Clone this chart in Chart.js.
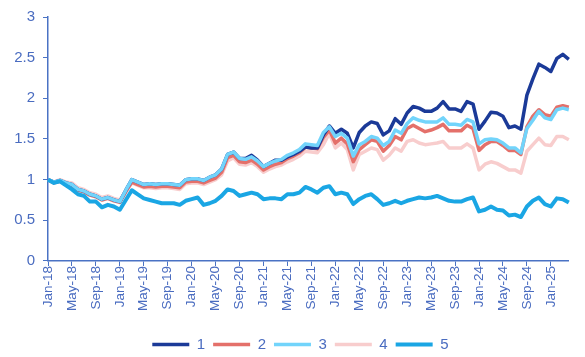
<!DOCTYPE html>
<html>
<head>
<meta charset="utf-8">
<script src="https://cdn.jsdelivr.net/npm/chart.js@4/dist/chart.umd.min.js"></script>
<style>
html,body{margin:0;padding:0;background:#fff;}
#wrap{width:585px;height:357px;position:relative;}
</style>
</head>
<body>
<div id="wrap"><canvas id="c" width="585" height="357"></canvas></div>
<script>
// Categories: monthly, Jan-18 .. Apr-25
const monthNames = ['Jan','Feb','Mar','Apr','May','Jun','Jul','Aug','Sep','Oct','Nov','Dec'];
const years = ['18','19','20','21','22','23','24','25'];
const categories = [];
years.forEach(y => monthNames.forEach(m => categories.push(m + '-' + y)));
categories.length = 88; // through Apr-25

const seriesNames = ['1','2','3','4','5'];

const series1 = [1.00,0.97,0.99,0.96,0.94,0.88,0.86,0.82,0.80,0.76,0.78,0.75,
  0.73,0.87,1.00,0.97,0.94,0.95,0.94,0.95,0.95,0.94,0.93,1.00,
  1.01,1.01,0.99,1.03,1.06,1.13,1.31,1.34,1.26,1.26,1.30,1.24,
  1.16,1.20,1.24,1.24,1.28,1.31,1.35,1.40,1.39,1.39,1.55,1.66,
  1.57,1.62,1.57,1.39,1.58,1.66,1.71,1.69,1.55,1.60,1.75,1.68,
  1.82,1.90,1.88,1.84,1.84,1.88,1.96,1.87,1.87,1.84,1.96,1.93,
  1.62,1.72,1.83,1.82,1.78,1.64,1.66,1.62,2.04,2.24,2.42,2.38,
  2.33,2.49,2.54,2.48];

const series2 = [1.00,0.96,0.98,0.95,0.93,0.87,0.85,0.81,0.79,0.75,0.77,0.74,
  0.72,0.85,0.97,0.94,0.91,0.92,0.91,0.92,0.92,0.91,0.90,0.97,
  0.98,0.98,0.96,0.99,1.02,1.09,1.27,1.30,1.22,1.21,1.24,1.19,
  1.12,1.16,1.19,1.21,1.26,1.29,1.33,1.40,1.39,1.38,1.52,1.61,
  1.45,1.51,1.44,1.22,1.37,1.43,1.49,1.47,1.35,1.42,1.53,1.49,
  1.63,1.67,1.63,1.59,1.61,1.64,1.68,1.60,1.60,1.60,1.67,1.63,
  1.36,1.43,1.47,1.47,1.42,1.36,1.36,1.31,1.65,1.78,1.86,1.80,
  1.78,1.89,1.91,1.89];

const series3 = [1.00,0.97,0.99,0.96,0.94,0.88,0.86,0.82,0.80,0.76,0.78,0.75,
  0.73,0.87,1.00,0.97,0.94,0.95,0.94,0.95,0.95,0.94,0.93,1.00,
  1.01,1.01,0.99,1.03,1.06,1.13,1.31,1.34,1.26,1.25,1.28,1.23,
  1.16,1.20,1.23,1.25,1.30,1.33,1.37,1.44,1.43,1.42,1.58,1.65,
  1.53,1.57,1.51,1.29,1.43,1.47,1.53,1.51,1.42,1.47,1.61,1.57,
  1.69,1.76,1.73,1.71,1.71,1.71,1.76,1.68,1.68,1.67,1.74,1.71,
  1.44,1.49,1.50,1.49,1.45,1.39,1.39,1.33,1.63,1.73,1.84,1.76,
  1.74,1.86,1.88,1.86];

const series4 = [1.00,0.97,1.00,0.97,0.96,0.90,0.88,0.84,0.82,0.78,0.80,0.77,
  0.75,0.86,0.96,0.93,0.90,0.90,0.89,0.90,0.90,0.89,0.88,0.95,
  0.96,0.96,0.94,0.97,1.00,1.06,1.23,1.27,1.19,1.18,1.21,1.16,
  1.09,1.13,1.16,1.18,1.22,1.25,1.29,1.35,1.34,1.33,1.43,1.57,
  1.39,1.45,1.37,1.12,1.31,1.35,1.39,1.37,1.24,1.30,1.39,1.35,
  1.47,1.49,1.45,1.43,1.44,1.45,1.47,1.39,1.39,1.39,1.44,1.39,
  1.12,1.19,1.22,1.20,1.16,1.12,1.12,1.08,1.35,1.43,1.51,1.43,
  1.42,1.53,1.53,1.49];

const series5 = [1.00,0.96,0.98,0.93,0.88,0.82,0.80,0.73,0.73,0.66,0.69,0.67,
  0.63,0.75,0.87,0.82,0.77,0.75,0.73,0.71,0.71,0.71,0.69,0.74,
  0.76,0.78,0.69,0.71,0.74,0.80,0.88,0.86,0.80,0.82,0.84,0.82,
  0.76,0.77,0.77,0.76,0.82,0.82,0.84,0.91,0.88,0.84,0.90,0.92,
  0.82,0.84,0.82,0.70,0.76,0.80,0.82,0.76,0.69,0.71,0.74,0.71,
  0.74,0.76,0.78,0.77,0.78,0.80,0.77,0.74,0.73,0.73,0.76,0.78,
  0.61,0.63,0.67,0.63,0.62,0.56,0.57,0.54,0.67,0.74,0.78,0.70,
  0.67,0.77,0.76,0.72];

const yTicks = [0, 0.5, 1, 1.5, 2, 2.5, 3];

const colors = ['#1b3a98', '#e4706a', '#72d4fb', '#f8cdcd', '#1aa6e4'];
const widths = [3.5, 3.5, 3.5, 3.5, 4];
const orders = [1, 2, 0, 3, -1];
const allSeries = [series1, series2, series3, series4, series5];

const axisColor = '#4a72c4';
const textColor = '#4a6cc0';
const FONT = 'Liberation Sans, Arial, sans-serif';

const datasets = allSeries.map((d, i) => ({
  label: seriesNames[i],
  data: d,
  borderColor: colors[i],
  backgroundColor: colors[i],
  borderWidth: widths[i],
  pointRadius: 0,
  tension: 0,
  fill: false,
  order: orders[i],
  borderJoinStyle: 'round'
}));

// Shift the legend slightly right, as in the reference
const legendShift = {
  id: 'legendShift',
  afterLayout(chart) {
    const lg = chart.legend;
    if (!lg) return;
    const plotCenter = (chart.chartArea.left + chart.chartArea.right) / 2;
    const cur = (lg.left + lg.right) / 2;
    const dx = plotCenter - cur - 8;
    lg.left += dx; lg.right += dx;
  }
};

new Chart(document.getElementById('c'), {
  type: 'line',
  data: { labels: categories, datasets },
  plugins: [legendShift],
  options: {
    responsive: false,
    animation: false,
    devicePixelRatio: 1,
    layout: { padding: { left: 0, right: 8, top: 11, bottom: -5 } },
    plugins: {
      tooltip: { enabled: false },
      legend: {
        position: 'bottom',
        labels: {
          usePointStyle: true,
          pointStyle: 'line',
          pointStyleWidth: 37,
          padding: 8,
          color: textColor,
          font: { family: FONT, size: 15 },
          sort: (a, b) => a.datasetIndex - b.datasetIndex
        }
      }
    },
    scales: {
      x: {
        type: 'category',
        offset: false,
        afterFit: (s) => { s.height = s.height + 18; },
        border: { display: true, color: axisColor, width: 1.5 },
        grid: {
          display: true,
          drawOnChartArea: false,
          drawTicks: true,
          tickLength: 5,
          color: (ctx) => (ctx.index % 4 === 0 ? axisColor : 'rgba(0,0,0,0)')
        },
        ticks: {
          autoSkip: false,
          minRotation: 90,
          maxRotation: 90,
          padding: 0,
          color: textColor,
          font: { family: FONT, size: 13.5 },
          callback: function(v, i) { return i % 4 === 0 ? categories[i] : ''; }
        }
      },
      y: {
        min: 0,
        max: 3,
        afterFit: (s) => { s.width = 48; },
        afterBuildTicks: (s) => { s.ticks = yTicks.map(v => ({ value: v })); },
        border: { display: true, color: axisColor, width: 1.5 },
        grid: {
          display: true,
          drawOnChartArea: false,
          drawTicks: true,
          tickLength: 5,
          color: axisColor
        },
        ticks: {
          padding: 8,
          color: textColor,
          font: { family: FONT, size: 15 },
          callback: (v) => String(v)
        }
      }
    }
  }
});
</script>
</body>
</html>
